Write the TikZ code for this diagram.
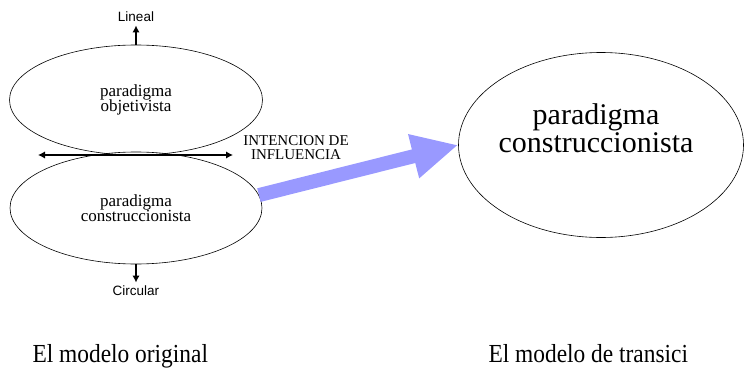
\documentclass[tikz,border=0pt]{standalone}
\usepackage{fontspec}
\setmainfont{Liberation Serif}
\newfontfamily\sansfont{Liberation Sans}
\newfontfamily\tallserif[FakeStretch=0.9]{Liberation Serif}
\usetikzlibrary{shapes.geometric,arrows.meta}
\definecolor{flowblue}{HTML}{9999FF}
\tikzset{
    paradigm/.style={ellipse,draw,line width=0.6pt,inner sep=0pt,align=center},
    smalltext/.style={font=\fontsize{17}{15.5}\selectfont},
    sidelabel/.style={font=\sansfont\fontsize{13.5}{13.5}\selectfont},
    bigarrow/.style={line width=2pt,-{Latex[length=7pt,width=7.5pt]}},
    caption/.style={font=\tallserif\fontsize{26}{26}\selectfont,anchor=base west},
}
\begin{document}
\begin{tikzpicture}[x=1pt,y=-1pt]
        \useasboundingbox (0,0) rectangle (744,372);
        %% original model
        \node[paradigm,smalltext,minimum width=253,minimum height=110] (obj) at (136,100) {paradigma\\objetivista};
        \node[paradigm,smalltext,minimum width=252,minimum height=112] (cons) at (136,208) {paradigma\\construccionista};
        \node[sidelabel] (lin) at (136,17) {Lineal};
        \node[sidelabel] (circ) at (136,291) {Circular};
        \draw[bigarrow] (obj.north) -- (lin.south);
        \draw[bigarrow] (cons.south) -- (circ.north);
        \coordinate (infl-l) at (38,155);
        \coordinate (infl-r) at (233,155);
        \draw[line width=2pt,{Latex[length=7pt,width=7.5pt]}-{Latex[length=7pt,width=7.5pt]}] (infl-l) -- (infl-r);
        \node[font=\fontsize{15}{14}\selectfont,align=center] (infl) at (296,148) {INTENCION DE\\INFLUENCIA};
        %% transition model
        \node[paradigm,minimum width=285,minimum height=185] (trans) at (601,145) {};
        \node[font=\fontsize{30}{28}\selectfont,align=center] (transtxt) at (596,128) {paradigma\\construccionista};
        \draw[flowblue,line width=14pt,-{Triangle[length=46pt,width=42pt]}] (cons.6) -- (trans.west);
        %% captions
        \node[caption] (orig) at (29,362) {El modelo original};
        \node[caption] (transcap) at (485,362) {El modelo de transici};
    \end{tikzpicture}
\end{document}
